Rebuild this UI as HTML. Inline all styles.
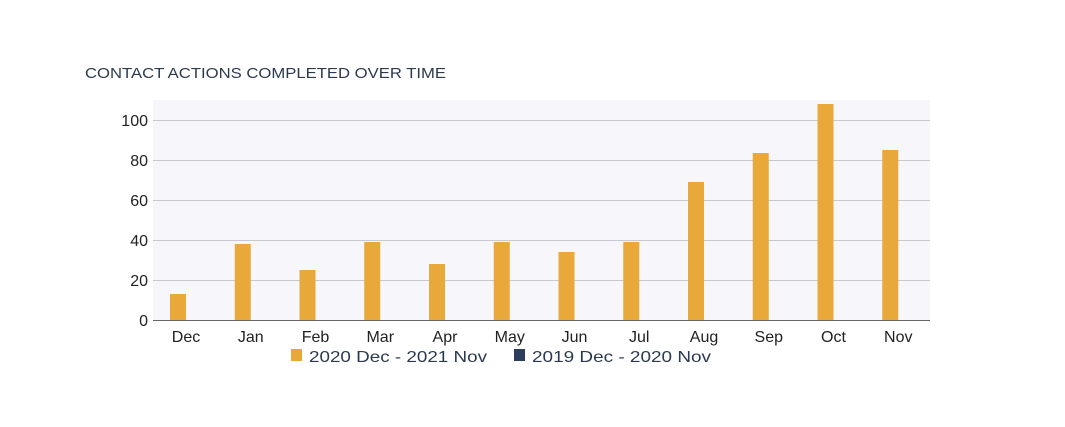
<!DOCTYPE html>
<html><head><style>
html,body{margin:0;padding:0;background:#fff;}
svg{display:block;font-family:"Liberation Sans",sans-serif;}
</style></head><body>
<svg width="1065" height="427" viewBox="0 0 1065 427">
<text x="85" y="78" font-size="15" fill="#2c3a4f" textLength="361" lengthAdjust="spacingAndGlyphs">CONTACT ACTIONS COMPLETED OVER TIME</text>
<rect x="153" y="100" width="777" height="220" fill="#f7f7fb"/>
<g stroke="#c8c8d0" stroke-width="1">
<line x1="153" x2="930" y1="120.5" y2="120.5"/>
<line x1="153" x2="930" y1="160.5" y2="160.5"/>
<line x1="153" x2="930" y1="200.5" y2="200.5"/>
<line x1="153" x2="930" y1="240.5" y2="240.5"/>
<line x1="153" x2="930" y1="280.5" y2="280.5"/>
</g>
<g font-size="16" fill="#222" text-anchor="end">
<text x="148" y="126">100</text>
<text x="148" y="166">80</text>
<text x="148" y="206">60</text>
<text x="148" y="246">40</text>
<text x="148" y="286">20</text>
<text x="148" y="326">0</text>
</g>
<g fill="#e8a83a">
<rect x="170" y="294" width="16" height="26"/>
<rect x="234.75" y="244" width="16" height="76"/>
<rect x="299.5" y="270" width="16" height="50"/>
<rect x="364.25" y="242" width="16" height="78"/>
<rect x="429" y="264" width="16" height="56"/>
<rect x="493.75" y="242" width="16" height="78"/>
<rect x="558.5" y="252" width="16" height="68"/>
<rect x="623.25" y="242" width="16" height="78"/>
<rect x="688" y="182" width="16" height="138"/>
<rect x="752.75" y="153" width="16" height="167"/>
<rect x="817.5" y="104" width="16" height="216"/>
<rect x="882.25" y="150" width="16" height="170"/>
</g>
<line x1="153" x2="930" y1="320.5" y2="320.5" stroke="#666" stroke-width="1"/>
<g font-size="16" fill="#222" text-anchor="middle">
<text x="186" y="342">Dec</text>
<text x="250.75" y="342">Jan</text>
<text x="315.5" y="342">Feb</text>
<text x="380.25" y="342">Mar</text>
<text x="445" y="342">Apr</text>
<text x="509.75" y="342">May</text>
<text x="574.5" y="342">Jun</text>
<text x="639.25" y="342">Jul</text>
<text x="704" y="342">Aug</text>
<text x="768.75" y="342">Sep</text>
<text x="833.5" y="342">Oct</text>
<text x="898.25" y="342">Nov</text>
</g>
<rect x="291" y="349" width="11" height="12" fill="#e8a83a"/>
<text x="309" y="362" font-size="16" fill="#2c3a4f" textLength="178" lengthAdjust="spacingAndGlyphs">2020 Dec - 2021 Nov</text>
<rect x="514" y="349" width="11" height="12" fill="#2c3e5c"/>
<text x="532" y="362" font-size="16" fill="#2c3a4f" textLength="179" lengthAdjust="spacingAndGlyphs">2019 Dec - 2020 Nov</text>
</svg>
</body></html>
